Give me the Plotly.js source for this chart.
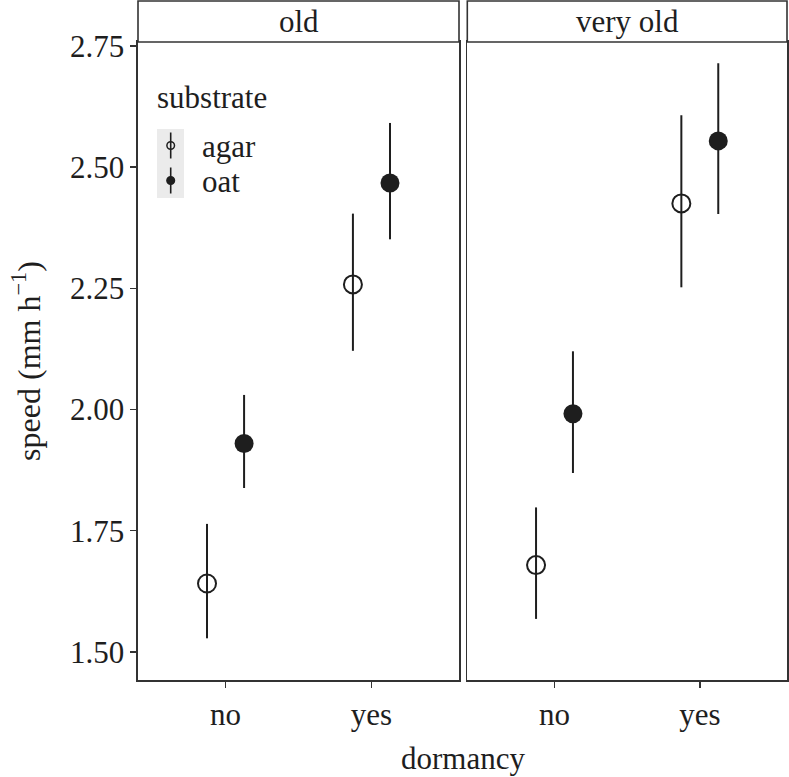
<!DOCTYPE html>
<html>
<head>
<meta charset="utf-8">
<script src="https://cdn.plot.ly/plotly-3.0.1.min.js"></script>
<style>html,body{margin:0;padding:0;background:#fff;} #chart{width:789px;height:777px;}</style>
</head>
<body>
<div id="chart"></div>
<script>
// ---- data ----
const dormancy = ['no', 'yes'];
const ages = ['old', 'very old'];
const substrates = ['agar', 'oat'];

const oldAgarMean  = [1.641, 2.258];
const oldAgarLower = [1.528, 2.121];
const oldAgarUpper = [1.764, 2.404];

const oldOatMean  = [1.930, 2.467];
const oldOatLower = [1.838, 2.351];
const oldOatUpper = [2.030, 2.591];

const veryOldAgarMean  = [1.679, 2.425];
const veryOldAgarLower = [1.568, 2.252];
const veryOldAgarUpper = [1.798, 2.607];

const veryOldOatMean  = [1.991, 2.554];
const veryOldOatLower = [1.869, 2.403];
const veryOldOatUpper = [2.120, 2.714];

const yTickVals = [1.50, 1.75, 2.00, 2.25, 2.50, 2.75];

// ---- styling ----
const FONT = 'Liberation Serif, Times New Roman, serif';
const INK = '#1e1e1e';
const LINE = '#333333';
const dodge = {agar: -0.127, oat: 0.127};

function makeTrace(sub, mean, lower, upper, xa, ya) {
  return {
    type: 'scatter', mode: 'markers',
    x: dormancy.map((d, i) => i + 1 + dodge[sub]),
    y: mean,
    xaxis: xa, yaxis: ya,
    showlegend: false,
    name: sub,
    marker: sub === 'agar'
      ? {symbol: 'circle-open', size: 18, color: INK, line: {width: 2, color: INK}}
      : {symbol: 'circle', size: 19, color: INK, line: {width: 0}},
    error_y: {
      type: 'data', symmetric: false,
      array: upper.map((u, i) => u - mean[i]),
      arrayminus: lower.map((l, i) => mean[i] - l),
      width: 0, thickness: 2, color: INK
    },
    hoverinfo: 'x+y'
  };
}

const data = [
  makeTrace('agar', oldAgarMean, oldAgarLower, oldAgarUpper, 'x', 'y'),
  makeTrace('oat', oldOatMean, oldOatLower, oldOatUpper, 'x', 'y'),
  makeTrace('agar', veryOldAgarMean, veryOldAgarLower, veryOldAgarUpper, 'x2', 'y2'),
  makeTrace('oat', veryOldOatMean, veryOldOatLower, veryOldOatUpper, 'x2', 'y2')
];

const W = 789, H = 777;
const mL = 138, mR = 2, mT = 42, mB = 97;
const pw = W - mL - mR, ph = H - mT - mB;
const d1 = [0, 321 / pw];
const d2 = [329.3 / pw, 1];

const xBase = {
  range: [0.4, 2.6],
  tickvals: dormancy.map((d, i) => i + 1),
  ticktext: dormancy,
  showgrid: false, zeroline: false,
  showline: true, mirror: true, linecolor: LINE, linewidth: 1.6,
  ticks: 'outside', ticklen: 6, tickwidth: 1.4, tickcolor: LINE,
  tickfont: {family: FONT, size: 31, color: INK},
  fixedrange: true
};
const yBase = {
  range: [1.442, 2.758],
  tickvals: yTickVals,
  ticktext: yTickVals.map(v => v.toFixed(2)),
  showgrid: false, zeroline: false,
  showline: true, mirror: true, linecolor: LINE, linewidth: 1.6,
  ticks: 'outside', ticklen: 6, tickwidth: 1.4, tickcolor: LINE,
  tickfont: {family: FONT, size: 31, color: INK},
  fixedrange: true
};

// strip geometry in paper units
const stripTop = 1 + (mT - 1) / ph;

const shapes = [];
const annotations = [];
[d1, d2].forEach((dom, k) => {
  shapes.push({type: 'rect', xref: 'paper', yref: 'paper',
    x0: dom[0], x1: dom[1], y0: 1, y1: stripTop,
    fillcolor: '#ffffff', line: {color: LINE, width: 1.6}, layer: 'above'});
  annotations.push({xref: 'paper', yref: 'paper', x: (dom[0] + dom[1]) / 2, y: (1 + stripTop) / 2,
    text: ages[k], showarrow: false, xanchor: 'center', yanchor: 'middle',
    font: {family: FONT, size: 31, color: INK}});
});

// manual legend (inside old panel)
const lx = px => (px - mL) / pw;
const ly = py => 1 - (py - mT) / ph;
annotations.push({xref: 'paper', yref: 'paper', x: lx(155), y: ly(97), text: 'substrate',
  showarrow: false, xanchor: 'left', yanchor: 'middle', font: {family: FONT, size: 31, color: INK}});
shapes.push({type: 'rect', xref: 'paper', yref: 'paper', x0: lx(157), x1: lx(184), y0: ly(198), y1: ly(129),
  fillcolor: '#ebebeb', line: {width: 0}, layer: 'below'});
const keyY = {agar: 145.5, oat: 180.5};
substrates.forEach(s => {
  const cy = keyY[s];
  shapes.push({type: 'line', xref: 'paper', yref: 'paper', x0: lx(170.7), x1: lx(170.7),
    y0: ly(cy - 13), y1: ly(cy + 13), line: {color: INK, width: 1.6}});
  shapes.push({type: 'circle', xref: 'paper', yref: 'paper', xsizemode: 'pixel', ysizemode: 'pixel',
    xanchor: lx(170.7), yanchor: ly(cy), x0: -3.8, x1: 3.8, y0: -3.8, y1: 3.8,
    fillcolor: s === 'agar' ? 'rgba(0,0,0,0)' : INK, line: {color: INK, width: 1.5}});
  annotations.push({xref: 'paper', yref: 'paper', x: lx(200), y: ly(cy + 1), text: s,
    showarrow: false, xanchor: 'left', yanchor: 'middle', font: {family: FONT, size: 31, color: INK}});
});

const layout = {
  width: W, height: H,
  margin: {l: mL, r: mR, t: mT, b: mB, pad: 0},
  paper_bgcolor: '#ffffff', plot_bgcolor: '#ffffff',
  showlegend: false,
  xaxis: Object.assign({}, xBase, {domain: d1, anchor: 'y'}),
  xaxis2: Object.assign({}, xBase, {domain: d2, anchor: 'y2'}),
  yaxis: Object.assign({}, yBase, {domain: [0, 1], anchor: 'x',
    title: {text: 'speed (mm h<sup>−1</sup>)', font: {family: FONT, size: 32, color: INK}, standoff: 20}}),
  yaxis2: Object.assign({}, yBase, {domain: [0, 1], anchor: 'x2', showticklabels: false, ticks: ''}),
  shapes: shapes,
  annotations: annotations.concat([
    {xref: 'paper', yref: 'paper', x: 0.5, y: ly(758), text: 'dormancy', showarrow: false,
      xanchor: 'center', yanchor: 'middle', font: {family: FONT, size: 31, color: INK}}
  ])
};

Plotly.newPlot('chart', data, layout, {displayModeBar: false, staticPlot: true});
</script>
</body>
</html>
